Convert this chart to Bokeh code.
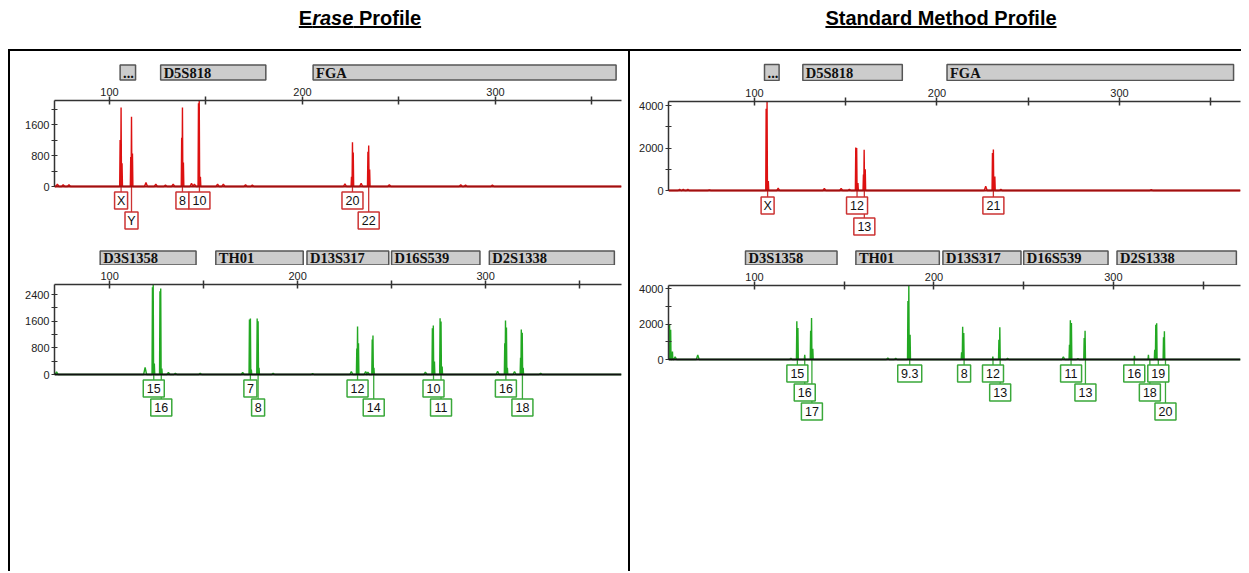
from bokeh.plotting import figure
from bokeh.models import Range1d, FixedTicker, Div, Span
from bokeh.layouts import row, column
from bokeh.core.properties import value
from bokeh.embed import file_html
from bokeh.resources import INLINE

SANS = "Liberation Sans"
SERIF = "Liberation Serif"

# ---------------- data (base pairs / RFU) ----------------
X_MAJOR = [100, 200, 300]
X_MINOR = [150, 250, 350]

TOP_LOCI = ["...", "D5S818", "FGA"]
TOP_LOCUS_START = [105.5, 126.5, 205.5]
TOP_LOCUS_END = [113.5, 181.0, 362.5]

BOT_LOCI = ["D3S1358", "TH01", "D13S317", "D16S539", "D2S1338"]
BOT_LOCUS_START = [95.0, 156.5, 205.0, 250.0, 302.0]
BOT_LOCUS_END = [146.0, 203.0, 248.5, 297.0, 368.5]

# Erase profile, top (red)
LT_SPIKE_BP = [105.5, 106.0, 106.5, 111.0, 111.4, 111.9, 137.4, 137.8, 138.3,
               146.1, 146.5, 147.1, 225.4, 225.9, 226.3, 233.9, 234.3, 234.8]
LT_SPIKE_H = [1200, 2040, 600, 760, 1800, 850, 1260, 2040, 620,
              2150, 2220, 250, 250, 1140, 880, 900, 1060, 440]
LT_NOISE_BP = [73, 76, 79, 118.9, 124, 129, 133, 142.5, 144, 156, 159, 170.5, 174,
               222, 230.4, 245, 282, 284.5, 298.4]
LT_NOISE_H = [60, 50, 50, 100, 60, 40, 60, 80, 60, 60, 60, 50, 40, 70, 80, 50, 50, 40, 40]
LT_ALLELES = ["X", "Y", "8", "10", "20", "22"]
LT_ALLELE_BP = [106.0, 111.4, 137.8, 146.6, 225.9, 234.3]
LT_ALLELE_ROW = [1, 2, 1, 1, 1, 2]

# Erase profile, bottom (green)
LB_SPIKE_BP = [122.8, 123.2, 123.8, 126.8, 127.2, 127.8, 174.4, 174.9, 175.4,
               178.5, 179.0, 179.5, 231.5, 231.9, 232.4, 239.7, 240.1, 240.6,
               271.7, 272.2, 272.8, 275.8, 276.3, 276.9, 310.2, 310.6, 311.1, 311.6,
               318.6, 319.0, 319.5, 320.0]
LB_SPIKE_H = [2620, 2700, 330, 2500, 2580, 180, 1650, 1680, 150,
              1680, 1600, 200, 780, 1440, 940, 1050, 1170, 200,
              1390, 1470, 390, 1690, 1590, 240, 940, 1620, 1410, 200,
              500, 1350, 1250, 200]
LB_NOISE_BP = [71.8, 118.9, 131.3, 135, 148.2, 170.8, 187, 208, 228.6, 236.2, 237.4,
               268, 306.4, 315.4, 329.3]
LB_NOISE_H = [80, 210, 60, 40, 40, 60, 40, 30, 90, 90, 70, 70, 100, 90, 40]
LB_ALLELES = ["15", "16", "7", "8", "12", "14", "10", "11", "16", "18"]
LB_ALLELE_BP = [123.5, 127.5, 174.9, 179.0, 231.9, 240.5, 272.3, 276.3, 310.8, 319.6]
LB_ALLELE_ROW = [1, 2, 1, 2, 1, 2, 1, 2, 1, 2]

# Standard method, top (red)
RT_SPIKE_BP = [106.4, 106.9, 107.6, 155.5, 156.0, 156.7, 159.7, 160.1, 160.7,
               230.4, 230.9, 231.7]
RT_SPIKE_H = [3850, 4190, 450, 2020, 2000, 350, 750, 1920, 1000, 1760, 1930, 660]
RT_NOISE_BP = [59, 61, 63.5, 75.3, 113, 138.3, 147.5, 152, 226.7, 235, 317.4]
RT_NOISE_H = [50, 50, 50, 30, 110, 100, 100, 60, 200, 60, 40]
RT_ALLELES = ["X", "12", "13", "21"]
RT_ALLELE_BP = [107.2, 156.2, 160.2, 230.9]
RT_ALLELE_ROW = [1, 1, 2, 1]

# Standard method, bottom (green)
RB_SPIKE_BP = [52.7, 53.3, 54.3, 123.6, 124.2, 128.0, 131.3, 131.8, 132.5,
               185.5, 186.0, 186.7, 215.4, 216.0, 216.6, 232.8, 236.2, 236.7,
               275.5, 276.0, 276.6, 283.7, 284.2, 311.7, 319.5,
               323.0, 323.6, 324.1, 327.9, 328.4]
RB_SPIKE_H = [1960, 1680, 450, 2150, 1770, 260, 1620, 2340, 600,
              3290, 4170, 1400, 400, 1850, 1490, 170, 1110, 1810,
              830, 2210, 2060, 1210, 1620, 210, 260,
              550, 1960, 2040, 1250, 1590]
RB_NOISE_BP = [55.8, 68.4, 120.3, 174.3, 178.7, 241, 272.1, 280.2]
RB_NOISE_H = [150, 260, 60, 80, 60, 60, 150, 50]
RB_ALLELES = ["15", "16", "17", "9.3", "8", "12", "13", "11", "13", "16", "18", "19", "20"]
RB_ALLELE_BP = [123.9, 128.0, 132.0, 186.5, 216.8, 232.9, 236.9, 276.4, 284.4,
                311.6, 320.3, 325.0, 329.0]
RB_ALLELE_ROW = [1, 2, 3, 1, 1, 1, 2, 1, 2, 1, 2, 1, 3]

RED = "#dd1111"
RED_BOX = "#cc3333"
RED_BASE = "#a01010"
GREEN = "#22a822"
GREEN_BOX = "#3aa83a"


def trace_xy(spike_bp, spike_h, noise_bp, noise_h, x0, x1):
    pts = [(b, h, 0.22) for b, h in zip(spike_bp, spike_h)]
    pts += [(b, h, 0.8) for b, h in zip(noise_bp, noise_h)]
    pts.sort()
    xs, ys = [x0], [0]
    for b, h, w in pts:
        xs += [b - w, b, b + w]
        ys += [0, h, 0]
    xs.append(x1)
    ys.append(0)
    return xs, ys


def box_width(t):
    return 5 + sum(3 if c == "." else 8 for c in t)


def panel(x0, x1, ymax, above, below, fig_w, h, mb_left, mb_right, mb_top,
          yticks, yminor, sbp, sh, nbp, nh, color, base_color,
          alleles, abp, arow, row0, gap, box_color):
    ymin = -ymax * below / above
    p = figure(width=fig_w, height=h, x_range=Range1d(x0, x1), y_range=Range1d(ymin, ymax),
               x_axis_location="above", output_backend="svg", toolbar_location=None,
               min_border_left=mb_left, min_border_right=mb_right,
               min_border_top=mb_top, min_border_bottom=0, margin=0)
    p.extra_y_ranges = {"px": Range1d(-below, above)}
    p.outline_line_color = None
    p.grid.visible = False
    p.background_fill_color = "white"

    xa = p.xaxis[0]
    xa.ticker = FixedTicker(ticks=X_MAJOR, minor_ticks=X_MINOR)
    xa.major_tick_in = 4
    xa.major_tick_out = 4
    xa.minor_tick_in = 4
    xa.minor_tick_out = 4
    xa.major_label_standoff = 1
    xa.major_label_text_font = SANS
    xa.major_label_text_font_size = "11px"
    xa.major_label_text_color = "#222222"
    xa.axis_line_width = 1.5
    xa.axis_line_color = "#333333"
    xa.major_tick_line_width = 1.5
    xa.minor_tick_line_width = 1.5
    xa.major_tick_line_color = "#333333"
    xa.minor_tick_line_color = "#333333"

    ya = p.yaxis[0]
    ya.ticker = FixedTicker(ticks=yticks, minor_ticks=yminor)
    ya.bounds = (0, ymax)
    ya.major_tick_in = 3
    ya.major_tick_out = 3
    ya.minor_tick_in = 3
    ya.minor_tick_out = 3
    ya.major_label_standoff = 2
    ya.major_label_text_font = SANS
    ya.major_label_text_font_size = "11px"
    ya.major_label_text_color = "#222222"
    ya.axis_line_width = 1.5
    ya.axis_line_color = "#333333"
    ya.major_tick_line_color = "#333333"
    ya.minor_tick_line_color = "#333333"

    xs, ys = trace_xy(sbp, sh, nbp, nh, x0, x1)
    p.line(xs, ys, line_color=color, line_width=1.4)
    p.add_layout(Span(location=0, dimension="width", line_color=base_color, line_width=2))

    yc = [-(row0 + gap * (r - 1)) for r in arow]
    ytop = [y + 8.5 for y in yc]
    p.segment(x0=abp, y0=[0] * len(abp), x1=abp, y1=ytop, y_range_name="px",
              line_color=box_color, line_width=1.3)
    p.rect(x=abp, y=yc, width=[box_width(t) for t in alleles], height=17,
           width_units="screen", height_units="screen", y_range_name="px",
           fill_color="white", line_color=box_color, line_width=1.5)
    p.text(x=abp, y=yc, text=alleles, y_range_name="px", text_align="center",
           text_baseline="middle", text_font=value(SANS), text_font_size="12.5px",
           text_color="#111111")
    return p


def locus_fig(xr, fig_w, h, mb_left, mb_right, names, starts, ends, bb, bt):
    p = figure(width=fig_w, height=h, x_range=xr, y_range=Range1d(0, h),
               x_axis_type=None, y_axis_type=None, output_backend="svg",
               toolbar_location=None, min_border_left=mb_left, min_border_right=mb_right,
               min_border_top=0, min_border_bottom=0, margin=0)
    p.outline_line_color = None
    p.quad(left=starts, right=ends, bottom=bb, top=bt, fill_color="#cccccc",
           line_color="#555555", line_width=1.5)
    p.text(x=starts, y=[(bb + bt) / 2] * len(starts), text=names, x_offset=3,
           text_font=value(SERIF), text_font_style="bold", text_font_size="14.5px",
           text_baseline="middle", text_color="#111111")
    return p


LW, RW = 618, 611
EXTRA = 6  # panels run on to the bottom edge of the window

lt = panel(71.5, 365.3, 2220, 86, 51, LW, 156, 44, 7, 19,
           [0, 800, 1600, 2400], [400, 1200, 2000],
           LT_SPIKE_BP, LT_SPIKE_H, LT_NOISE_BP, LT_NOISE_H, RED, RED_BASE,
           LT_ALLELES, LT_ALLELE_BP, LT_ALLELE_ROW, 14, 20, RED_BOX)
lb = panel(70.7, 372.3, 2700, 90, 192 + EXTRA, LW, 301 + EXTRA, 44, 7, 19,
           [0, 800, 1600, 2400], [400, 1200, 2000],
           LB_SPIKE_BP, LB_SPIKE_H, LB_NOISE_BP, LB_NOISE_H, GREEN, "#111111",
           LB_ALLELES, LB_ALLELE_BP, LB_ALLELE_ROW, 14, 19, GREEN_BOX)
rt = panel(52.9, 366.3, 4190, 89, 47, RW, 156, 38, 1, 20,
           [0, 2000, 4000], [1000, 3000],
           RT_SPIKE_BP, RT_SPIKE_H, RT_NOISE_BP, RT_NOISE_H, RED, RED_BASE,
           RT_ALLELES, RT_ALLELE_BP, RT_ALLELE_ROW, 15, 21, RED_BOX)
rb = panel(52.1, 370.8, 4170, 74, 207 + EXTRA, RW, 301 + EXTRA, 38, 1, 20,
           [0, 2000, 4000], [1000, 3000],
           RB_SPIKE_BP, RB_SPIKE_H, RB_NOISE_BP, RB_NOISE_H, GREEN, "#111111",
           RB_ALLELES, RB_ALLELE_BP, RB_ALLELE_ROW, 14, 19, GREEN_BOX)

lt_loc = locus_fig(lt.x_range, LW, 30, 44, 7, TOP_LOCI, TOP_LOCUS_START, TOP_LOCUS_END, 1.5, 16.5)
lb_loc = locus_fig(lb.x_range, LW, 28, 44, 7, BOT_LOCI, BOT_LOCUS_START, BOT_LOCUS_END, 0.5, 14.5)
rt_loc = locus_fig(rt.x_range, RW, 30, 38, 1, TOP_LOCI, TOP_LOCUS_START, TOP_LOCUS_END, 1.0, 17.0)
rb_loc = locus_fig(rb.x_range, RW, 28, 38, 1, BOT_LOCI, BOT_LOCUS_START, BOT_LOCUS_END, 0.5, 14.5)

TSTYLE = ("text-align:center;font-family:'Liberation Sans',Arial,sans-serif;"
          "font-weight:bold;font-size:20px;line-height:21px;text-decoration:underline;"
          "color:#000;margin-top:0;")
title_l = Div(text='<div style="width:300px;margin-left:202px;%s">E<i>rase</i> Profile</div>' % TSTYLE,
              width=620, height=41, margin=0)
title_r = Div(text='<div style="width:300px;margin-left:163px;%s">Standard Method Profile</div>' % TSTYLE,
              width=613, height=41, margin=0)
hline = Div(text="", width=1233, height=2, margin=0, styles={"background-color": "black"})
vline1 = Div(text="", width=2, height=514 + EXTRA, margin=0, styles={"background-color": "black"})
vline2 = Div(text="", width=2, height=514 + EXTRA, margin=0, styles={"background-color": "black"})

left_col = column(lt_loc, lt, lb_loc, lb, margin=0, spacing=0)
right_col = column(rt_loc, rt, rb_loc, rb, margin=0, spacing=0)
root = column(row(title_l, title_r, margin=0, spacing=0), hline,
              row(vline1, left_col, vline2, right_col, margin=0, spacing=0),
              margin=(8, 0, 0, 8), spacing=0)

open("out.html", "w").write(file_html(root, INLINE))
